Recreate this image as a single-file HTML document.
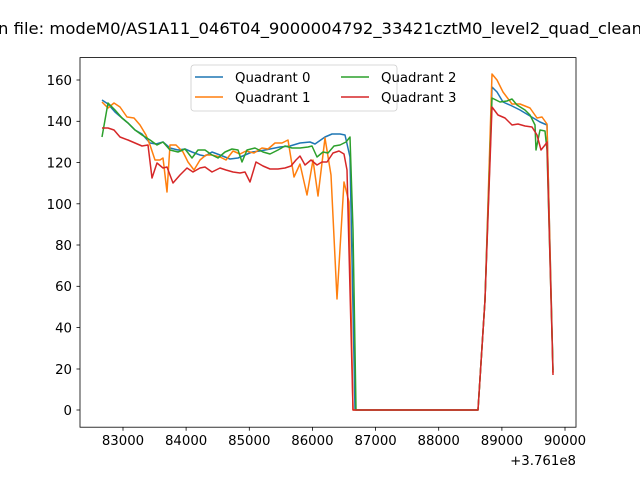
<!DOCTYPE html>
<html><head><style>body{margin:0;background:#fff}svg{display:block}</style></head><body>
<svg width="640" height="480" xmlns="http://www.w3.org/2000/svg" font-family="DejaVu Sans, Liberation Sans, sans-serif">
<rect width="640" height="480" fill="#fff"/>
<text x="-2" y="34" font-size="16" fill="#000" textLength="644" lengthAdjust="spacingAndGlyphs">n file: modeM0/AS1A11_046T04_9000004792_33421cztM0_level2_quad_clean</text>
<g fill="none" stroke-width="1.5" stroke-linejoin="round">
<polyline stroke="#1f77b4" points="102,100 108,104 115,112 122,118 128,123 135,130 142,134 150,143 156,144 163,142 170,148 178,150 185,149 192,152 200,155 205,156 212,152 220,155 230,159 238,158 245,155 252,152 260,151 270,149 280,147 290,146 300,143 310,142 315,144 325,137 332,134 340,134 345,135 350,157 355,410 478,410 485,300 492,87 497,92 503,102 512,106 520,110 530,116 540,122 547,125 553,372"/>
<polyline stroke="#ff7f0e" points="102,102 108,108 114,103 120,107 127,117 134,118 140,125 146,135 150,145 155,160 160,160 163,158 167,192 170,145 176,145 183,152 188,162 194,170 200,160 206,155 212,155 220,157 226,160 233,151 240,154 246,151 254,153 262,148 268,149 275,143 282,143 288,140 294,177 300,164 307,195 313,160 318,196 325,138 331,175 337,299 344,182 349,202 353,410 478,410 485,300 492,74 497,80 503,92 512,104 520,104 530,108 537,118 542,117 547,124 553,373"/>
<polyline stroke="#2ca02c" points="102,137 108,103 115,110 122,118 128,123 135,130 142,135 150,140 157,145 163,142 170,150 178,152 185,149 192,158 198,150 205,150 212,155 218,158 225,152 232,149 238,150 242,162 247,150 255,148 263,152 270,154 278,150 285,146 292,148 300,148 308,147 312,146 317,157 323,152 328,153 334,146 340,145 346,142 350,137 353,230 356,410 478,410 485,300 492,98 500,102 507,101 512,99 517,105 525,110 530,115 535,125 536,150 540,130 545,131 547,150 553,370"/>
<polyline stroke="#d62728" points="102,128 108,128 114,130 120,137 128,140 135,143 142,146 148,145 152,178 157,163 163,168 167,167 173,183 180,175 187,168 193,172 200,168 205,167 212,172 220,168 226,170 233,172 240,173 245,172 250,182 256,162 263,166 270,169 278,169 285,168 291,166 296,160 300,156 305,165 311,160 317,165 322,162 327,162 333,153 339,151 344,154 347,170 353,410 478,410 485,300 492,107 498,115 505,118 512,125 518,124 525,126 532,127 537,135 541,150 545,145 547,142 553,375"/>
</g>
<rect x="80" y="57.6" width="496" height="369.6" fill="none" stroke="#000" stroke-width="0.8"/>
<g stroke="#000" stroke-width="0.8">
<line x1="76.5" x2="80" y1="410" y2="410"/><line x1="76.5" x2="80" y1="369" y2="369"/><line x1="76.5" x2="80" y1="327.5" y2="327.5"/><line x1="76.5" x2="80" y1="286.3" y2="286.3"/><line x1="76.5" x2="80" y1="245" y2="245"/><line x1="76.5" x2="80" y1="203.8" y2="203.8"/><line x1="76.5" x2="80" y1="162.5" y2="162.5"/><line x1="76.5" x2="80" y1="121.3" y2="121.3"/><line x1="76.5" x2="80" y1="80" y2="80"/>
<line x1="123" x2="123" y1="427.2" y2="430.7"/><line x1="186.1" x2="186.1" y1="427.2" y2="430.7"/><line x1="249.3" x2="249.3" y1="427.2" y2="430.7"/><line x1="312.4" x2="312.4" y1="427.2" y2="430.7"/><line x1="375.6" x2="375.6" y1="427.2" y2="430.7"/><line x1="438.7" x2="438.7" y1="427.2" y2="430.7"/><line x1="501.9" x2="501.9" y1="427.2" y2="430.7"/><line x1="565" x2="565" y1="427.2" y2="430.7"/>
</g>
<g font-size="13.3" fill="#000" text-anchor="end">
<text x="72" y="415">0</text><text x="72" y="374">20</text><text x="72" y="332.5">40</text><text x="72" y="291">60</text><text x="72" y="250">80</text><text x="72" y="209">100</text><text x="72" y="167.5">120</text><text x="72" y="126">140</text><text x="72" y="85">160</text>
</g>
<g font-size="13.3" fill="#000" text-anchor="middle">
<text x="123" y="445">83000</text><text x="186.1" y="445">84000</text><text x="249.3" y="445">85000</text><text x="312.4" y="445">86000</text><text x="375.6" y="445">87000</text><text x="438.7" y="445">88000</text><text x="501.9" y="445">89000</text><text x="565" y="445">90000</text>
</g>
<text x="576" y="465" font-size="13.3" text-anchor="end">+3.761e8</text>
<rect x="191" y="65" width="206" height="46" rx="3" fill="#fff" fill-opacity="0.8" stroke="#ccc" stroke-width="0.8"/>
<g stroke-width="1.5">
<line x1="195" x2="223" y1="77" y2="77" stroke="#1f77b4"/><line x1="195" x2="223" y1="97" y2="97" stroke="#ff7f0e"/>
<line x1="341" x2="369" y1="77" y2="77" stroke="#2ca02c"/><line x1="341" x2="369" y1="97" y2="97" stroke="#d62728"/>
</g>
<g font-size="13.3" fill="#000">
<text x="235" y="82">Quadrant 0</text><text x="235" y="102">Quadrant 1</text>
<text x="381" y="82">Quadrant 2</text><text x="381" y="102">Quadrant 3</text>
</g>
</svg>
</body></html>
